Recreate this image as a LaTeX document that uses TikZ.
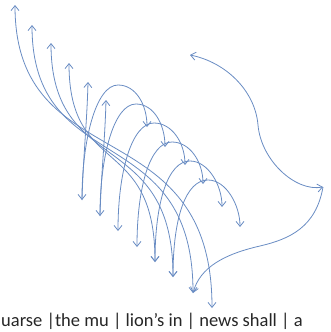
\documentclass[tikz,border=0pt]{standalone}
\usepackage{fontspec}
\setmainfont{Carlito}
\usepackage{tikz}
\usetikzlibrary{arrows.meta}
\definecolor{arcblue}{RGB}{105,140,195}

\begin{document}
\begin{tikzpicture}[x=1pt,y=-1pt,
  arc/.style={arcblue,line width=0.8pt},
  >={Straight Barb[length=5pt,width=8pt]}]
\useasboundingbox (0,0) rectangle (331,332);
% upper ends
\coordinate (t1) at (15,5);
\coordinate (t2) at (32,25);
\coordinate (t3) at (51,43);
\coordinate (t4) at (69,63);
\coordinate (t5) at (88,82);
\coordinate (t6) at (106,100);
% lower ends
\coordinate (b1) at (82,200);
\coordinate (b2) at (100,216);
\coordinate (b3) at (118,231);
\coordinate (b4) at (137,247);
\coordinate (b5) at (155,262);
\coordinate (b6) at (173,277);
\coordinate (b7) at (193,293);
\coordinate (b8) at (212,308);
% arch tops and right ends
\coordinate (p1) at (118,85);
\coordinate (p2) at (136,104);
\coordinate (p3) at (154,123);
\coordinate (p4) at (172,142);
\coordinate (p5) at (190,161);
\coordinate (p6) at (208,180);
\coordinate (r1) at (147,127);
\coordinate (r2) at (165,147);
\coordinate (r3) at (185,165);
\coordinate (r4) at (203,184);
\coordinate (r5) at (222,207);
\coordinate (r6) at (240,227);
\coordinate (far) at (190,55);
\coordinate (tip) at (323,187);

% long twisted curves
\draw[arc,<->] (t1) .. controls +(0,175) and +(0,-200) .. (b8);
\draw[arc,<->] (t2) .. controls +(0,155) and +(0,-175) .. (b7);
\draw[arc,<->] (t3) .. controls +(0,135) and +(0,-150) .. (b6);
\draw[arc,<->] (t4) .. controls +(0,115) and +(0,-128) .. (b5);
\draw[arc,->] (b1) .. controls +(1,-40) and +(-1,40) .. (t5);
\draw[arc,->] (b2) .. controls +(1,-40) and +(-1,40) .. (t6);

% arches
\foreach \k in {1,...,6}
  \draw[arc,<->] (b\k) .. controls +(0,-60) and +(-22,0) .. (p\k)
    .. controls +(18,0) and +(0,-22) .. (r\k);

% right loop
\draw[arc,<->] (far) .. controls +(35,7) and +(-3,-35) .. (258,125)
  .. controls +(3,35) and +(-28,5) .. (tip);
\draw[arc,->] (tip) .. controls +(-7,40) and +(30,-7) .. (260,246)
  .. controls +(-35,8) and +(7,-26) .. (b7);

\node[anchor=base west,font=\fontsize{18.5}{22}\selectfont,text=black!85,
  inner sep=0pt] (words)
  at (1,326) {uarse |the mu | lion's in | news shall | a};
\end{tikzpicture}
\end{document}
